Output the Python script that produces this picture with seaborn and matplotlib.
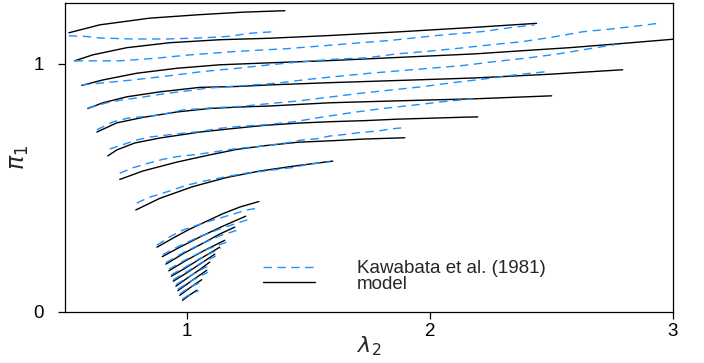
import matplotlib
matplotlib.use("Agg")
import matplotlib.pyplot as plt
from matplotlib.lines import Line2D
import pandas as pd
import seaborn as sns

# Fixed stretch ratio lambda_1 for each curve (used only as curve id)
lambda1 = [3.7, 3.4, 3.1, 2.8, 2.5, 2.2, 1.9, 1.6, 1.3,
           1.24, 1.2, 1.16, 1.14, 1.12, 1.10, 1.08, 1.06, 1.04]

# Model prediction: nominal stress pi_1 against lambda_2
model_lam2 = [
    [0.516, 0.643, 0.849, 1.054, 1.231, 1.404],
    [0.540, 0.614, 0.754, 0.931, 1.136, 1.342, 1.589, 1.876, 2.185, 2.439],
    [0.569, 0.656, 0.795, 0.960, 1.136, 1.342, 1.589, 1.876, 2.185, 2.369, 2.575, 2.780, 3.000],
    [0.594, 0.656, 0.754, 0.890, 1.054, 1.219, 1.342, 1.589, 1.876, 2.185, 2.493, 2.793],
    [0.631, 0.713, 0.820, 0.960, 1.095, 1.219, 1.342, 1.589, 1.876, 2.185, 2.501],
    [0.676, 0.713, 0.787, 0.890, 1.054, 1.178, 1.321, 1.457, 1.597, 1.732, 1.868, 2.008, 2.143, 2.197],
    [0.725, 0.820, 0.960, 1.095, 1.206, 1.321, 1.457, 1.597, 1.732, 1.897],
    [0.791, 0.890, 1.025, 1.165, 1.301, 1.457, 1.601],
    [0.878, 0.952, 1.013, 1.083, 1.149, 1.219, 1.297],
    [0.900, 0.972, 1.054, 1.145, 1.243],
    [0.915, 0.993, 1.075, 1.136, 1.198],
    [0.927, 0.993, 1.075, 1.157],
    [0.937, 0.993, 1.054, 1.136],
    [0.945, 1.001, 1.058, 1.116],
    [0.956, 1.005, 1.050, 1.095],
    [0.964, 1.021, 1.083],
    [0.972, 1.017, 1.062],
    [0.983, 1.013, 1.042],
]
model_pi1 = [
    [1.125, 1.157, 1.184, 1.198, 1.208, 1.214],
    [1.012, 1.036, 1.065, 1.085, 1.097, 1.103, 1.114, 1.129, 1.147, 1.163],
    [0.913, 0.935, 0.962, 0.982, 0.996, 1.004, 1.013, 1.026, 1.040, 1.052, 1.065, 1.081, 1.099],
    [0.820, 0.843, 0.867, 0.887, 0.905, 0.909, 0.915, 0.924, 0.933, 0.943, 0.958, 0.976],
    [0.725, 0.762, 0.784, 0.806, 0.820, 0.826, 0.830, 0.843, 0.851, 0.859, 0.871],
    [0.629, 0.653, 0.681, 0.701, 0.725, 0.738, 0.752, 0.761, 0.767, 0.771, 0.777, 0.781, 0.785, 0.786],
    [0.534, 0.568, 0.604, 0.633, 0.655, 0.670, 0.684, 0.690, 0.697, 0.702],
    [0.411, 0.458, 0.505, 0.542, 0.568, 0.590, 0.608],
    [0.261, 0.302, 0.334, 0.366, 0.396, 0.423, 0.445],
    [0.223, 0.261, 0.302, 0.344, 0.386],
    [0.193, 0.239, 0.281, 0.314, 0.342],
    [0.166, 0.205, 0.249, 0.289],
    [0.144, 0.176, 0.213, 0.261],
    [0.124, 0.158, 0.195, 0.233],
    [0.104, 0.138, 0.168, 0.201],
    [0.086, 0.126, 0.168],
    [0.067, 0.100, 0.130],
    [0.047, 0.069, 0.088],
]

# Biaxial tension measurements, Kawabata et al. (1981)
kaw_lam2 = [
    [0.516, 0.590, 0.643, 0.779, 0.919, 1.054, 1.165, 1.272, 1.371],
    [0.540, 0.725, 0.869, 1.013, 1.206, 1.412, 1.617, 1.835, 2.028, 2.217, 2.341, 2.431],
    [0.569, 0.643, 0.779, 0.931, 1.067, 1.219, 1.342, 1.478, 1.617, 1.741, 1.864, 1.987,
     2.123, 2.254, 2.378, 2.501, 2.628, 2.752, 2.875, 2.945],
    [0.594, 0.672, 0.738, 0.808, 0.878, 0.943, 1.013, 1.083, 1.149, 1.219, 1.371, 1.506,
     1.617, 1.753, 1.876, 2.012, 2.135, 2.267, 2.398, 2.522, 2.645, 2.760],
    [0.631, 0.697, 0.758, 0.820, 0.890, 0.984, 1.083, 1.149, 1.219, 1.321, 1.465, 1.589,
     1.720, 1.847, 1.971, 2.094, 2.226, 2.357, 2.485],
    [0.684, 0.734, 0.795, 0.849, 0.972, 1.054, 1.136, 1.219, 1.321, 1.445, 1.568, 1.691,
     1.815, 1.938, 2.069, 2.176],
    [0.725, 0.779, 0.841, 0.902, 0.960, 1.025, 1.095, 1.165, 1.219, 1.289, 1.350, 1.416,
     1.473, 1.535, 1.589, 1.658, 1.720, 1.786, 1.843, 1.897],
    [0.795, 0.849, 0.919, 1.001, 1.075, 1.157, 1.247, 1.330, 1.375, 1.445, 1.498, 1.568, 1.589],
    [0.878, 0.931, 0.984, 1.083, 1.190, 1.247, 1.297],
    [0.902, 0.972, 1.054, 1.145, 1.252],
    [0.915, 0.993, 1.075, 1.145, 1.210],
    [0.927, 0.993, 1.075, 1.169],
    [0.937, 0.993, 1.054, 1.141],
    [0.945, 1.001, 1.058, 1.120],
    [0.956, 1.005, 1.050, 1.104],
    [0.964, 1.021, 1.087],
    [0.972, 1.017, 1.067],
    [0.984, 1.013, 1.050],
]
kaw_pi1 = [
    [1.113, 1.110, 1.104, 1.100, 1.100, 1.104, 1.110, 1.124, 1.130],
    [1.012, 1.012, 1.022, 1.036, 1.050, 1.061, 1.077, 1.094, 1.114, 1.130, 1.147, 1.157],
    [0.915, 0.922, 0.935, 0.952, 0.969, 0.983, 0.996, 1.009, 1.019, 1.024, 1.040, 1.050,
     1.063, 1.077, 1.089, 1.107, 1.129, 1.141, 1.155, 1.164],
    [0.822, 0.843, 0.855, 0.864, 0.875, 0.884, 0.892, 0.902, 0.906, 0.911, 0.922, 0.938,
     0.949, 0.962, 0.972, 0.983, 0.993, 1.009, 1.023, 1.039, 1.059, 1.077],
    [0.734, 0.766, 0.781, 0.787, 0.794, 0.814, 0.821, 0.825, 0.828, 0.838, 0.851, 0.866,
     0.882, 0.895, 0.908, 0.924, 0.939, 0.956, 0.969],
    [0.657, 0.673, 0.693, 0.705, 0.719, 0.727, 0.740, 0.748, 0.754, 0.767, 0.787, 0.805,
     0.821, 0.834, 0.849, 0.859],
    [0.559, 0.581, 0.599, 0.615, 0.626, 0.633, 0.642, 0.653, 0.660, 0.666, 0.673, 0.682,
     0.693, 0.698, 0.709, 0.716, 0.724, 0.729, 0.738, 0.743],
    [0.439, 0.463, 0.484, 0.511, 0.528, 0.544, 0.560, 0.569, 0.575, 0.583, 0.595, 0.603, 0.606],
    [0.269, 0.303, 0.330, 0.363, 0.394, 0.411, 0.419],
    [0.231, 0.267, 0.304, 0.338, 0.372],
    [0.199, 0.243, 0.281, 0.310, 0.330],
    [0.172, 0.209, 0.249, 0.283],
    [0.150, 0.180, 0.215, 0.257],
    [0.130, 0.162, 0.197, 0.225],
    [0.110, 0.140, 0.166, 0.193],
    [0.092, 0.126, 0.160],
    [0.073, 0.102, 0.124],
    [0.053, 0.071, 0.086],
]

legend_labels = ["Kawabata et al. (1981)", "model"]
x_ticks = [1, 2, 3]
y_ticks = [0, 1]


def long_table(xs, ys, source):
    rows = []
    for lam1, cx, cy in zip(lambda1, xs, ys):
        for x, y in zip(cx, cy):
            rows.append({"lam2": x, "pi1": y, "curve": lam1, "source": source})
    return pd.DataFrame(rows)


model_df = long_table(model_lam2, model_pi1, "model")
kaw_df = long_table(kaw_lam2, kaw_pi1, "Kawabata")

sns.set_style("ticks")
plt.rcParams["font.family"] = ["Liberation Sans", "DejaVu Sans"]
plt.rcParams["mathtext.fontset"] = "dejavusans"

fig = plt.figure(figsize=(7.04, 3.63), dpi=100)
ax = fig.add_axes([65 / 704, 51 / 363, 608 / 704, 309 / 363])

BLUE = "#1E90FF"
DASH = (6, 4)

sns.lineplot(data=model_df, x="lam2", y="pi1", units="curve", estimator=None,
             sort=False, color="black", linewidth=1.0, ax=ax, legend=False)
sns.lineplot(data=kaw_df, x="lam2", y="pi1", units="curve", estimator=None,
             sort=False, color=BLUE, linewidth=1.0, ax=ax, legend=False)
for line in ax.lines[len(lambda1):]:
    line.set_dashes(DASH)

ax.set_xlim(0.5, 3.0)
ax.set_ylim(0, 1.245)
ax.set_xticks(x_ticks)
ax.set_yticks(y_ticks)
ax.set_xticklabels([str(t) for t in x_ticks])
ax.set_yticklabels([str(t) for t in y_ticks])

for sp in ax.spines.values():
    sp.set_color("black")
    sp.set_linewidth(0.9)
ax.tick_params(direction="out", length=5, width=0.9, colors="black", labelsize=13.5)
ax.tick_params(axis="y", pad=10)
ax.tick_params(axis="x", pad=3)

ax.set_xlabel(r"$\lambda_2$", fontsize=16, labelpad=-4)
ax.set_ylabel(r"$\pi_1$", fontsize=17, labelpad=2)

handles = [
    Line2D([], [], color=BLUE, linewidth=1.0, dashes=DASH),
    Line2D([], [], color="black", linewidth=1.0),
]
ax.legend(handles, legend_labels, loc="upper left", bbox_to_anchor=(0.3257, 0.168),
          frameon=False, fontsize=13.5, handlelength=2.77, handletextpad=2.24,
          labelspacing=-0.08, borderpad=0, borderaxespad=0)

fig.savefig("out.png", dpi=100)
